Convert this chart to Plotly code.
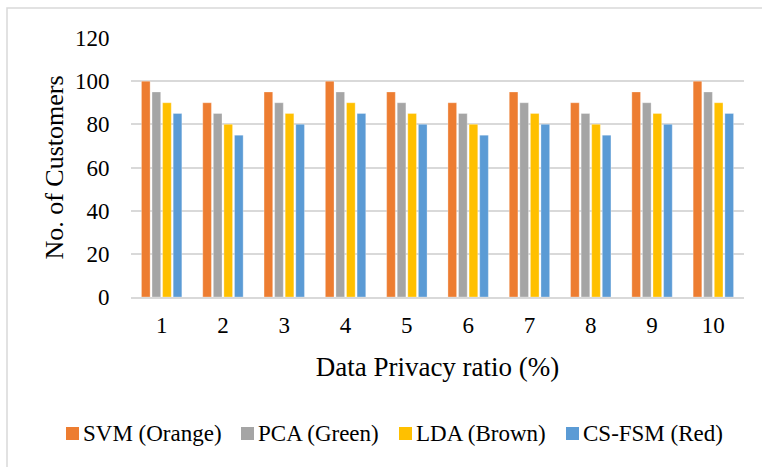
import plotly.graph_objects as go

categories = ["1", "2", "3", "4", "5", "6", "7", "8", "9", "10"]
svm = [100, 90, 95, 100, 95, 90, 95, 90, 95, 100]
pca = [95, 85, 90, 95, 90, 85, 90, 85, 90, 95]
lda = [90, 80, 85, 90, 85, 80, 85, 80, 85, 90]
csfsm = [85, 75, 80, 85, 80, 75, 80, 75, 80, 85]
series_names = ["SVM (Orange)", "PCA (Green)", "LDA (Brown)", "CS-FSM (Red)"]
colors = ["#ED7D31", "#A5A5A5", "#FFC000", "#5B9BD5"]
y_ticks = [0, 20, 40, 60, 80, 100, 120]

FONT = "Liberation Serif, Times New Roman, serif"

fig = go.Figure()
for name, vals, col in zip(series_names, [svm, pca, lda, csfsm], colors):
    fig.add_trace(go.Bar(
        x=categories, y=vals, name=name, showlegend=False,
        marker=dict(color=col, line=dict(color="rgba(255,255,255,0.6)", width=0.5)),
    ))

W, H = 762, 467
L, R, T, B = 131, 18, 38, 170
pw = W - L - R
ph = H - T - B

def px2x(px):
    return (px - L) / pw

def py2y(py):
    return (H - B - py) / ph

# legend drawn as key squares + text (single row, like the original)
legend_left = [66, 241, 399, 566]
legend_mid_y = 433.5
sq = 13
shapes = [dict(
    type="rect", xref="paper", yref="paper",
    x0=px2x(7), x1=px2x(775), y0=py2y(480), y1=py2y(8),
    line=dict(color="#D9D9D9", width=1.5), fillcolor="rgba(0,0,0,0)", layer="below",
)]
annotations = []
for name, col, lx in zip(series_names, colors, legend_left):
    shapes.append(dict(
        type="rect", xref="paper", yref="paper",
        x0=px2x(lx), x1=px2x(lx + sq),
        y0=py2y(legend_mid_y + sq / 2), y1=py2y(legend_mid_y - sq / 2),
        line=dict(width=0), fillcolor=col,
    ))
    annotations.append(dict(
        text=name, xref="paper", yref="paper",
        x=px2x(lx + sq + 2), y=py2y(legend_mid_y),
        xanchor="left", yanchor="middle", showarrow=False,
        font=dict(family=FONT, size=23, color="#000000"),
    ))

fig.update_layout(
    width=W, height=H,
    margin=dict(l=L, r=R, t=T, b=B, autoexpand=False),
    paper_bgcolor="white", plot_bgcolor="white",
    barmode="group", bargap=0.31, bargroupgap=0.18,
    font=dict(family=FONT, color="#000000", size=23),
    showlegend=False,
    xaxis=dict(
        type="category", automargin=False,
        showgrid=False, showline=True, linecolor="#D9D9D9", linewidth=1.5,
        ticks="outside", ticklen=7, tickcolor="rgba(0,0,0,0)",
        tickfont=dict(family=FONT, size=23),
        title=dict(text="Data Privacy ratio (%)", font=dict(family=FONT, size=27), standoff=20),
    ),
    yaxis=dict(
        range=[0, 120], tickvals=y_ticks, automargin=False,
        showgrid=True, gridcolor="#D9D9D9", gridwidth=1.5,
        zeroline=False, showline=False,
        ticks="outside", ticklen=16, tickcolor="rgba(0,0,0,0)",
        tickfont=dict(family=FONT, size=23),
        title=dict(text="No. of Customers", font=dict(family=FONT, size=26), standoff=3),
    ),
    shapes=shapes,
    annotations=annotations,
)

fig.write_html(
    "out.html",
    config={"displayModeBar": False},
    post_script="document.body.style.margin='0';document.body.style.overflow='hidden';",
)
